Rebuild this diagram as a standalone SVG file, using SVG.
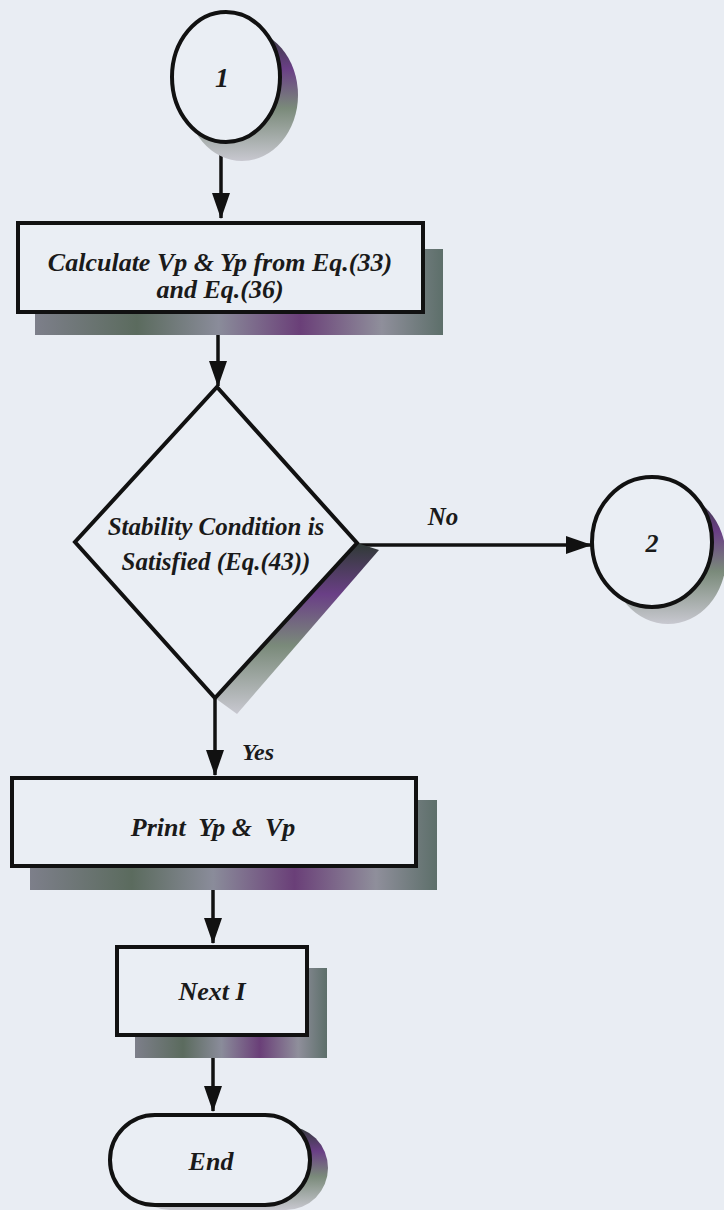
<svg xmlns="http://www.w3.org/2000/svg" width="724" height="1210" viewBox="0 0 724 1210">
<style>
.shape{fill:#eaeef4;stroke:#111;stroke-width:4}
.conn{stroke:#111;stroke-width:3.5;fill:none}
.t{font-family:"Liberation Serif","Times New Roman",serif;font-weight:bold;font-style:italic;fill:#1a1a1a;text-anchor:middle;white-space:pre}
.sh{fill:url(#shg)}
</style>
<defs>
<linearGradient id="shg" x1="0" y1="0" x2="1" y2="0">
<stop offset="0" stop-color="#7d7f8a"/>
<stop offset="0.25" stop-color="#5b6b5e"/>
<stop offset="0.45" stop-color="#8a8c9a"/>
<stop offset="0.65" stop-color="#6a3f78"/>
<stop offset="0.85" stop-color="#8f8f9b"/>
<stop offset="1" stop-color="#5d6f6a"/>
</linearGradient>
<linearGradient id="shd" x1="0" y1="0" x2="0" y2="1">
<stop offset="0" stop-color="#2f3a35"/>
<stop offset="0.3" stop-color="#6a3f86"/>
<stop offset="0.6" stop-color="#7a8a7a"/>
<stop offset="1" stop-color="#c8c8d0"/>
</linearGradient>
<marker id="ah" viewBox="0 0 26 18" refX="25" refY="9" markerWidth="26" markerHeight="18" markerUnits="userSpaceOnUse" orient="auto">
<path d="M0,0 L26,9 L0,18 z" fill="#111"/>
</marker>
</defs>
<rect width="724" height="1210" fill="#e9edf3"/>

<g id="connectors">
<line class="conn" x1="221" y1="143" x2="221" y2="218" marker-end="url(#ah)"/>
<line class="conn" x1="218" y1="312" x2="218" y2="386" marker-end="url(#ah)"/>
<line class="conn" x1="357" y1="545" x2="591" y2="545" marker-end="url(#ah)"/>
<line class="conn" x1="215" y1="698" x2="215" y2="775" marker-end="url(#ah)"/>
<line class="conn" x1="213" y1="866" x2="213" y2="943" marker-end="url(#ah)"/>
<line class="conn" x1="213" y1="1035" x2="213" y2="1111" marker-end="url(#ah)"/>
<text class="t" x="443" y="525" font-size="25">No</text>
<text class="t" x="258" y="760" font-size="24">Yes</text>
</g>

<g id="start1">
<ellipse cx="242" cy="95" rx="56" ry="66" fill="url(#shd)"/>
<ellipse class="shape" cx="226" cy="77" rx="54" ry="65"/>
<text class="t" x="222" y="87" font-size="28">1</text>
</g>

<g id="calc">
<rect class="sh" x="35" y="249" width="408" height="86"/>
<rect class="shape" x="18" y="223" width="405" height="89"/>
<text class="t" x="220" y="271" font-size="26">Calculate Vp &amp; Yp from Eq.(33)</text>
<text class="t" x="220" y="298" font-size="26">and Eq.(36)</text>
</g>

<g id="decision">
<polygon points="357,543 379,550 237,714 215,698" fill="url(#shd)"/>
<polygon class="shape" points="217,387 357,543 215,698 75,542"/>
<text class="t" x="216" y="535" font-size="25">Stability Condition is</text>
<text class="t" x="216" y="570" font-size="25">Satisfied (Eq.(43))</text>
</g>

<g id="conn2">
<ellipse cx="668" cy="558" rx="58" ry="66" fill="url(#shd)"/>
<ellipse class="shape" cx="652" cy="542" rx="60" ry="65"/>
<text class="t" x="652" y="552" font-size="26">2</text>
</g>

<g id="print">
<rect class="sh" x="30" y="800" width="407" height="90"/>
<rect class="shape" x="12" y="778" width="404" height="88"/>
<text class="t" x="213" y="836" font-size="26" xml:space="preserve">Print  Yp &amp;  Vp</text>
</g>

<g id="next">
<rect class="sh" x="135" y="968" width="192" height="90"/>
<rect class="shape" x="117" y="947" width="190" height="88"/>
<text class="t" x="212" y="1000" font-size="26">Next I</text>
</g>

<g id="end">
<rect x="128" y="1126" width="200" height="84" rx="42" fill="url(#shd)"/>
<rect class="shape" x="110" y="1115" width="200" height="90" rx="45"/>
<text class="t" x="211" y="1170" font-size="26">End</text>
</g>
</svg>
